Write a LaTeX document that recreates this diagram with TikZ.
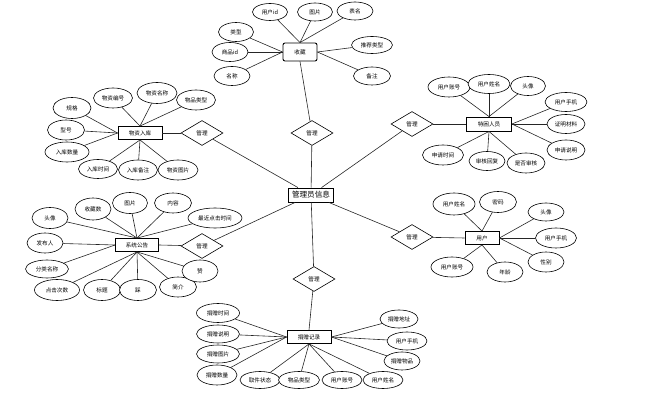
\documentclass[tikz,border=0pt]{standalone}
\usepackage{fontspec}
\newfontfamily\cjk{Noto Sans CJK SC}
\usetikzlibrary{shapes.geometric}
\newcommand{\attrfont}{\cjk\fontsize{5.6}{6.5}\selectfont}
\newcommand{\mainfont}{\cjk\fontsize{7.6}{9}\selectfont}
\tikzset{
  attr/.style={ellipse, draw, line width=0.6pt, minimum width=38, minimum height=19, inner sep=0.5pt, font=\attrfont, fill=white},
  ent/.style={rectangle, draw, line width=0.9pt, minimum width=44, minimum height=13, inner sep=1pt, font=\attrfont, fill=white},
  rel/.style={diamond, draw, line width=0.6pt, minimum width=42, minimum height=25, inner sep=0pt, font=\attrfont, fill=white},
  conn/.style={line width=0.6pt, black!85}
}
\begin{document}
\begin{tikzpicture}[x=1pt,y=-1pt]
\useasboundingbox (0,0) rectangle (646,403);
% centre
\node[ent, font=\mainfont, minimum width=45, minimum height=14] (c) at (311,195) {管理员信息};
% relations
\node[rel] (r1) at (312,133) {管理};
\node[rel] (r2) at (202,133) {管理};
\node[rel] (r3) at (412,124) {管理};
\node[rel] (r4) at (202,246) {管理};
\node[rel] (r5) at (412,237) {管理};
\node[rel] (r6) at (314,279) {管理};
% entities
\node[ent, rounded corners=2pt, minimum width=34, minimum height=18] (e1) at (300,52) {收藏};
\node[ent] (e2) at (140,133) {物资入库};
\node[ent, minimum width=45, minimum height=14] (e3) at (489,124) {特困人员};
\node[ent, minimum width=43] (e4) at (137,245) {系统公告};
\node[ent, minimum width=34] (e5) at (482,238) {用户};
\node[ent] (e6) at (309,337) {捐赠记录};
% attributes of 收藏
\node[attr, minimum width=35, minimum height=17] (a11) at (270,12) {用户id};
\node[attr, minimum width=35, minimum height=18] (a12) at (315,12) {图片};
\node[attr, minimum width=36, minimum height=18] (a13) at (355,11) {表名};
\node[attr, minimum width=35] (a14) at (236,32) {类型};
\node[attr, minimum width=36] (a15) at (230,52) {商品id};
\node[attr, minimum width=36] (a16) at (232,76) {名称};
\node[attr, minimum width=41, minimum height=17] (a17) at (372,45) {推荐类型};
\node[attr, minimum width=37, minimum height=18] (a18) at (372,76) {备注};
% attributes of 物资入库
\node[attr, minimum width=39, minimum height=20] (a21) at (113,98) {物资编号};
\node[attr, minimum width=40, minimum height=21] (a22) at (157,93) {物资名称};
\node[attr, minimum width=39, minimum height=20] (a23) at (196,100) {物品类型};
\node[attr, minimum width=38, minimum height=21] (a24) at (72,108) {规格};
\node[attr, minimum width=37, minimum height=20] (a25) at (66,130) {型号};
\node[attr, minimum width=44, minimum height=20] (a26) at (67,152) {入库数量};
\node[attr, minimum width=39, minimum height=19] (a27) at (98,169) {入库时间};
\node[attr, minimum width=39, minimum height=20] (a28) at (138,170) {入库备注};
\node[attr, minimum width=40, minimum height=20] (a29) at (178,170) {物资图片};
% attributes of 特困人员
\node[attr, minimum width=42, minimum height=20] (a31) at (449,87) {用户账号};
\node[attr, minimum width=42, minimum height=19] (a32) at (489,84) {用户姓名};
\node[attr, minimum width=35, minimum height=19] (a33) at (528,86) {头像};
\node[attr, minimum width=42, minimum height=19] (a34) at (566,102) {用户手机};
\node[attr, minimum width=38, minimum height=19] (a35) at (566,124) {证明材料};
\node[attr, minimum width=38, minimum height=20] (a36) at (566,150) {申请说明};
\node[attr, minimum width=41, minimum height=20] (a37) at (443,155) {申请时间};
\node[attr, minimum width=36, minimum height=19] (a38) at (487,161) {审核回复};
\node[attr, minimum width=38, minimum height=20] (a39) at (526,163) {是否审核};
% attributes of 系统公告
\node[attr, minimum width=36, minimum height=21] (a41) at (50,218) {头像};
\node[attr, minimum width=36, minimum height=22] (a42) at (93,209) {收藏数};
\node[attr, minimum width=35, minimum height=21] (a43) at (130,203) {图片};
\node[attr, minimum width=37, minimum height=20] (a44) at (173,203) {内容};
\node[attr, minimum width=54, minimum height=20] (a45) at (215,218) {最近点击时间};
\node[attr, minimum width=36, minimum height=20] (a46) at (45,243) {发布人};
\node[attr, minimum width=43, minimum height=18] (a47) at (47,269) {分类名称};
\node[attr, minimum width=45, minimum height=21] (a48) at (57,290) {点击次数};
\node[attr, minimum width=37, minimum height=21] (a49) at (102,290) {标题};
\node[attr, minimum width=37, minimum height=21] (a410) at (138,290) {踩};
\node[attr, minimum width=37, minimum height=20] (a411) at (178,287) {简介};
\node[attr, minimum width=36, minimum height=22] (a412) at (200,271) {赞};
% attributes of 用户
\node[attr, minimum width=42, minimum height=22] (a51) at (454,204) {用户姓名};
\node[attr, minimum width=37, minimum height=21] (a52) at (498,202) {密码};
\node[attr, minimum width=36, minimum height=18] (a53) at (546,212) {头像};
\node[attr, minimum width=41, minimum height=20] (a54) at (556,238) {用户手机};
\node[attr, minimum width=36, minimum height=20] (a55) at (546,262) {性别};
\node[attr, minimum width=36, minimum height=20] (a56) at (505,272) {年龄};
\node[attr, minimum width=42, minimum height=20] (a57) at (452,267) {用户账号};
% attributes of 捐赠记录
\node[attr, minimum width=43, minimum height=19] (a61) at (218,313) {捐赠时间};
\node[attr, minimum width=43, minimum height=18] (a62) at (218,334) {捐赠说明};
\node[attr, minimum width=43, minimum height=18] (a63) at (218,354) {捐赠图片};
\node[attr, minimum width=40, minimum height=20] (a64) at (217,375) {捐赠数量};
\node[attr, minimum width=40, minimum height=17] (a65) at (260,380) {取件状态};
\node[attr, minimum width=41, minimum height=17] (a66) at (299,380) {物品类型};
\node[attr, minimum width=40, minimum height=17] (a67) at (342,380) {用户账号};
\node[attr, minimum width=40, minimum height=17] (a68) at (383,380) {用户姓名};
\node[attr, minimum width=38, minimum height=18] (a69) at (399,319) {捐赠地址};
\node[attr, minimum width=40, minimum height=18] (a610) at (407,341) {用户手机};
\node[attr, minimum width=36, minimum height=18] (a611) at (402,361) {捐赠物品};
% relation links
\draw[conn] (c) -- (r1); \draw[conn] (r1) -- (e1.south);
\draw[conn] (c) -- (r2); \draw[conn] (r2) -- (e2.east);
\draw[conn] (c) -- (r3); \draw[conn] (r3) -- (e3.west);
\draw[conn] (c) -- (r4); \draw[conn] (r4) -- (e4.east);
\draw[conn] (c) -- (r5); \draw[conn] (r5) -- (e5.west);
\draw[conn] (c) -- (r6); \draw[conn] (r6) -- (e6.north);
% attribute links
\foreach \a in {a11,a12,a13} \draw[conn] (\a) -- (e1.north);
\foreach \a in {a14,a15,a16} \draw[conn] (\a) -- (e1.west);
\foreach \a in {a17,a18} \draw[conn] (\a) -- (e1.east);
\foreach \a in {a21,a22,a23} \draw[conn] (\a) -- (e2.north);
\foreach \a in {a24,a25,a26} \draw[conn] (\a) -- (e2.west);
\foreach \a in {a27,a28,a29} \draw[conn] (\a) -- (e2.south);
\foreach \a in {a31,a32,a33} \draw[conn] (\a) -- (e3.north);
\foreach \a in {a34,a35,a36} \draw[conn] (\a) -- (e3.east);
\foreach \a in {a37,a38,a39} \draw[conn] (\a) -- (e3.south);
\foreach \a in {a41,a42,a43,a44,a45} \draw[conn] (\a) -- (e4.north);
\foreach \a in {a46,a47} \draw[conn] (\a) -- (e4.west);
\foreach \a in {a48,a49,a410,a411,a412} \draw[conn] (\a) -- (e4.south);
\foreach \a in {a51,a52} \draw[conn] (\a) -- (e5.north);
\foreach \a in {a53,a54,a55} \draw[conn] (\a) -- (e5.east);
\foreach \a in {a56,a57} \draw[conn] (\a) -- (e5.south);
\foreach \a in {a61,a62,a63,a64} \draw[conn] (\a) -- (e6.west);
\foreach \a in {a65,a66,a67,a68} \draw[conn] (\a) -- (e6.south);
\foreach \a in {a69,a610,a611} \draw[conn] (\a) -- (e6.east);
\end{tikzpicture}
\end{document}
